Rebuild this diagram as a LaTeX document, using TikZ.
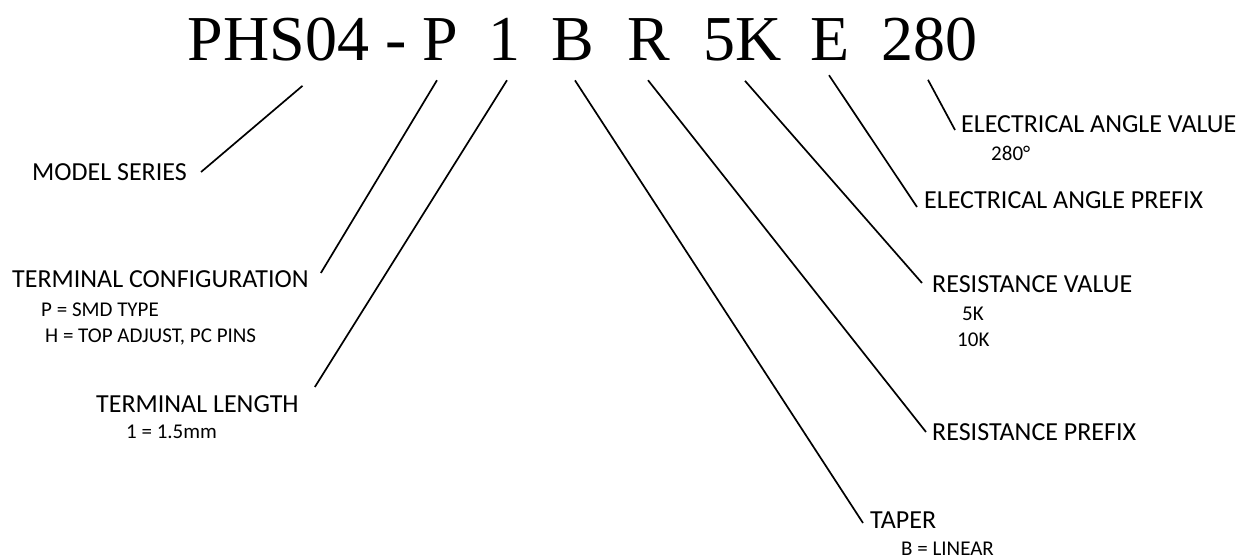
\documentclass[tikz,border=0pt]{standalone}
\usepackage{fontspec}
\usepackage{tikz}
\newfontfamily\ttlfont{Liberation Serif}
\newfontfamily\lblfont{Carlito}
\newcommand{\ttlsize}{64}
\newcommand{\lblsize}{26}
\newcommand{\subsize}{21}
\tikzset{
  ttl/.style = {inner sep = 0pt, anchor = base, font = \ttlfont\fontsize{\ttlsize}{\ttlsize}\selectfont},
  lbl/.style = {inner sep = 0pt, anchor = base west, font = \lblfont\fontsize{\lblsize}{\lblsize}\selectfont},
  sub/.style = {lbl, font = \lblfont\fontsize{\subsize}{\subsize}\selectfont},
  lead/.style = {line width = 1.7pt}
}

\begin{document}
\begin{tikzpicture}[x=1pt,y=-1pt]
        \useasboundingbox (0,0) rectangle (1249,558);
        %\draw[help lines,step=50] (0,0) grid (1249,558);
        % part number
        \node[ttl] (t-ser)  at (278.5,60) {PHS04};
        \node[ttl] (t-dsh)  at (396.5,60) {-};
        \node[ttl] (t-cfg)  at (440,60)   {P};
        \node[ttl] (t-len)  at (504,60)   {1};
        \node[ttl] (t-tap)  at (573,60)   {B};
        \node[ttl] (t-rpre) at (649,60)   {R};
        \node[ttl] (t-rval) at (742.5,60) {5K};
        \node[ttl] (t-epre) at (830.5,60) {E};
        \node[ttl] (t-eval) at (929.5,60) {280};
        % left labels
        \node[lbl] (l-ser) at (32,180)  {MODEL SERIES};
        \node[lbl] (l-cfg) at (12,287)  {TERMINAL CONFIGURATION};
        \node[sub]         at (41,316)  {P = SMD TYPE};
        \node[sub]         at (45,342)  {H = TOP ADJUST, PC PINS};
        \node[lbl] (l-len) at (96,412)  {TERMINAL LENGTH};
        \node[sub]         at (126,438) {1 = 1.5mm};
        % right labels
        \node[lbl] (l-eval) at (961,132) {ELECTRICAL ANGLE VALUE};
        \node[sub]          at (991,160) {280°};
        \node[lbl] (l-epre) at (924,208) {ELECTRICAL ANGLE PREFIX};
        \node[lbl] (l-rval) at (932,292) {RESISTANCE VALUE};
        \node[sub]          at (962,320) {5K};
        \node[sub]          at (957,346) {10K};
        \node[lbl] (l-rpre) at (932,440) {RESISTANCE PREFIX};
        \node[lbl] (l-tap)  at (870,528) {TAPER};
        \node[sub]          at (901,555) {B = LINEAR};
        % leaders
        \draw[lead] ([xshift=24pt,yshift=-25pt]t-ser.south) -- ([xshift=14pt,yshift=8pt]l-ser.base east);
        \draw[lead] ([xshift=-3pt,yshift=-20pt]t-cfg.south) -- ([xshift=12pt,yshift=14pt]l-cfg.base east);
        \draw[lead] ([xshift=3pt,yshift=-20pt]t-len.south) -- ([xshift=16pt,yshift=25pt]l-len.base east);
        \draw[lead] ([xshift=2pt,yshift=-20pt]t-tap.south) -- ([xshift=-7pt,yshift=5pt]l-tap.base west);
        \draw[lead] ([xshift=-1pt,yshift=-20pt]t-rpre.south) -- ([xshift=-6pt,yshift=8pt]l-rpre.base west);
        \draw[lead] ([xshift=2.5pt,yshift=-20pt]t-rval.south) -- ([xshift=-10pt,yshift=9pt]l-rval.base west);
        \draw[lead] ([xshift=-1.5pt,yshift=-15pt]t-epre.south) -- ([xshift=-7pt,yshift=1pt]l-epre.base west);
        \draw[lead] ([xshift=-1.5pt,yshift=-19pt]t-eval.south) -- ([xshift=-6pt,yshift=2pt]l-eval.base west);
    \end{tikzpicture}
\end{document}
